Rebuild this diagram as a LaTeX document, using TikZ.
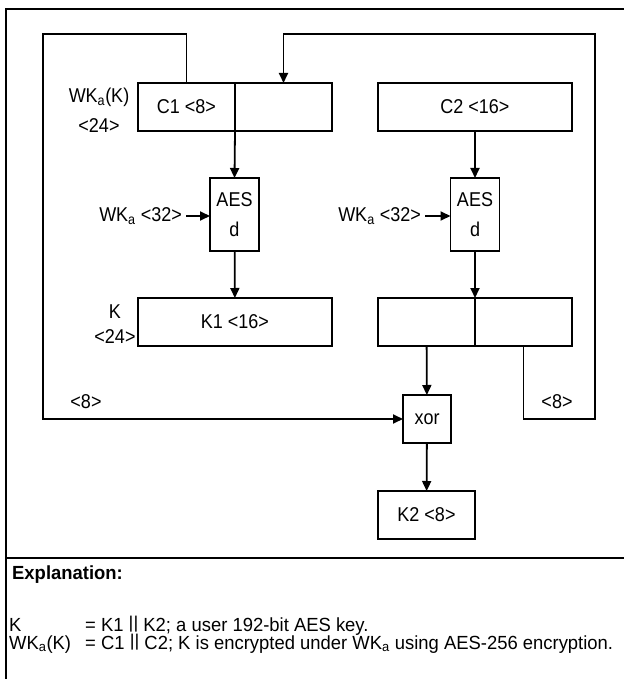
\documentclass[tikz,border=0pt]{standalone}
\usepackage{fontspec}
\setmainfont{Liberation Sans}[FakeStretch=0.9]
\newfontfamily\notefont{Liberation Sans}[FakeStretch=0.97]
\usetikzlibrary{arrows.meta,positioning}
\newcommand{\catbars}{\raisebox{0.12em}{\scalebox{1}[0.9]{\textbar\textbar}}}

\begin{document}
\begin{tikzpicture}[
  x=1pt, y=-1pt,
  font=\fontsize{20}{23}\selectfont,
  blk/.style={rectangle, draw, line width=1.8pt, inner sep=0pt, outer sep=0pt, minimum height=48pt},
  half/.style={blk, minimum width=97pt},
  full/.style={blk, minimum width=194pt},
  aes/.style={blk, minimum width=49pt, minimum height=73pt, align=center},
  arrow/.style={-{Triangle[length=10pt,width=9pt]}, line width=1.8pt},
  wire/.style={line width=1.8pt},
  lbl/.style={inner sep=0pt, align=center},
  note/.style={inner sep=0pt, anchor=base west, font=\notefont\fontsize{19}{21}\selectfont}
]
\useasboundingbox (0,0) rectangle (624,679);
% frame
\draw[wire] (6,679) -- (6,9) -- (624,9);
\draw[wire] (6,558) -- (624,558);

% wrapped key
\node[half] (c1l) at (186.5,107) {C1 <8>};
\node[half, right=0pt of c1l] (c1r) {};
\node[full] (c2) at (475,107) {C2 <16>};
\node[lbl] (wkk) at (99,110) {WK\textsubscript{a}(K)\\[7pt]<24>};

% decryption
\node[aes] (aesl) at (234.5,214.5) {AES\\[7pt]d};
\node[aes] (aesr) at (475,214.5) {AES\\[7pt]d};
\node[lbl, anchor=east] (wkl) at (182,216) {WK\textsubscript{a} <32>};
\node[lbl, anchor=east] (wkr) at (421,216) {WK\textsubscript{a} <32>};

% unwrapped parts
\node[full] (k1) at (235,322) {K1 <16>};
\node[lbl] (klab) at (115,324) {K\\[2pt]<24>};
\node[half] (rl) at (426.5,322) {};
\node[half, right=0pt of rl] (rr) {};
\node[blk, minimum width=48pt] (xor) at (427,419) {xor};
\node[half] (k2) at (426.5,515) {K2 <8>};
\node[lbl] (l8) at (86,402) {<8>};
\node[lbl] (r8) at (557,402) {<8>};

\coordinate (lt) at (43,34);
\coordinate (rc) at (595,419);
\coordinate (rt) at (595,34);

\draw[arrow] (c1l.south east) -- (aesl.north);
\draw[arrow] (c2) -- (aesr);
\draw[arrow, shorten <=4pt] (wkl.east) -- (wkl.east -| aesl.west);
\draw[arrow, shorten <=4pt] (wkr.east) -- (wkr.east -| aesr.west);
\draw[arrow] (aesl) -- (k1);
\draw[arrow] (aesr.south) -- (rl.north east);
\draw[arrow] (rl) -- (xor);
\draw[arrow] (xor) -- (k2);
\draw[arrow] (c1l.north) |- (lt) |- (xor.west);
\draw[arrow] (rr.south) |- (rc) -- (rt) -| (c1r.north);

% explanation
\node[note, font=\notefont\fontsize{19}{21}\selectfont\bfseries] (expl) at (12,579) {Explanation:};
\node[note] (kdef) at (9,631) {K};
\node[note] (keq) at (85,631) {= K1 \catbars{} K2; a user 192-bit AES key.};
\node[note] (wdef) at (9,649) {WK\textsubscript{a}(K)};
\node[note] (weq) at (85,649) {= C1 \catbars{} C2; K is encrypted under WK\textsubscript{a} using AES-256 encryption.};
\end{tikzpicture}
\end{document}
